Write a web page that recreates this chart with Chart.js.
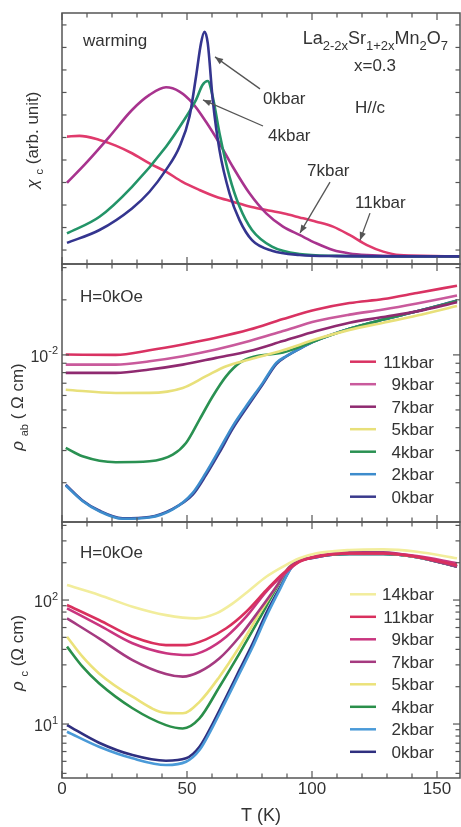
<!DOCTYPE html>
<html><head><meta charset="utf-8">
<script src="https://cdn.jsdelivr.net/npm/chart.js@4/dist/chart.umd.min.js"></script>
<style>
html,body{margin:0;padding:0;background:#fff;}
#wrap{position:relative;width:461px;height:827px;overflow:hidden;background:#fff;}
#wrap canvas{position:absolute;left:0;top:0;}
</style></head><body>
<div id="wrap">
<canvas id="cChi" width="461" height="827"></canvas>
<canvas id="cAb" width="461" height="827"></canvas>
<canvas id="cC" width="461" height="827"></canvas>
</div>
<script>
// ---------- axis ticks / labels ----------
const X_MIN = 0, X_MAX = 159.2;
const xTicks = [0,10,20,30,40,50,60,70,80,90,100,110,120,130,140,150];
const xTickLabels = ['0','50','100','150'];
const xLabelValues = [0,50,100,150];
const chiTicks = [0,1,2,3,4,5,6,7,8,9,10];
const abMajorTicks = [0.01];
const abMinorTicks = [0.002,0.003,0.004,0.005,0.006,0.007,0.008,0.009,0.02,0.03];
const cMajorTicks = [10,100];
const cMinorTicks = [4,5,6,7,8,9,20,30,40,50,60,70,80,90,200,300,400];

// ---------- top panel: chi_c (arb. unit) ----------
const chi0T = [2,15,28,35,41.6,47,51,53.6,55.6,57,58.3,60.3,63,67,71,76,84,95,110,130,159];
const chi0V = [0.32,0.89,1.85,2.59,3.56,4.59,5.93,7.70,9.19,9.70,9.19,6.67,4.44,2.52,1.33,0.44,-0.03,-0.22,-0.27,-0.28,-0.28];
const chi4T = [2,15,28,41.6,48,53.6,56.2,58.3,60.3,63,67,71,76,84,95,110,130,159];
const chi4V = [0.74,1.48,2.81,4.59,5.63,6.67,7.33,7.51,6.81,5.19,3.26,1.93,0.89,0.15,-0.18,-0.26,-0.28,-0.28];
const chi7T = [2,9.5,19,28,35,41.6,47,52.3,57.6,63,68.3,75,81.7,88.4,95,101.7,108.4,115,122,135,159];
const chi7V = [2.99,3.85,5.04,6.22,6.89,7.23,7.04,6.52,5.70,4.74,3.70,2.52,1.63,1.04,0.67,0.30,0.0,-0.15,-0.22,-0.27,-0.28];
const chi11T = [2,7,15,21.5,28,35,41.6,48,55,61.6,68.3,75,81.7,88.4,95,101.7,108.4,115,122,128.5,135,159];
const chi11V = [5.04,5.07,4.89,4.64,4.30,3.85,3.48,3.04,2.67,2.37,2.15,1.93,1.78,1.63,1.45,1.26,1.04,0.67,0.22,-0.07,-0.22,-0.28];

// ---------- middle panel: rho_ab (Ohm cm) ----------
const abT = [1.5,21.5,35,48.3,61.6,75,88.4,101.8,115,128.5,142,158];
const ab11V = [0.01004,0.0100,0.0106,0.0114,0.0124,0.01375,0.0157,0.0177,0.0192,0.0202,0.0218,0.0239];
const ab9V  = [0.00885,0.00885,0.00923,0.00984,0.0107,0.0119,0.0135,0.0153,0.0166,0.0177,0.0191,0.0211];
const ab7V  = [0.00797,0.00797,0.00832,0.00885,0.00963,0.0105,0.0119,0.0135,0.0150,0.0161,0.0173,0.0194];
const ab5T = [1.5,21.5,35,48.3,57.6,65.7,75,88.4,101.8,115,128.5,142,158];
const ab5V = [0.00645,0.00619,0.0062,0.0066,0.00765,0.00867,0.00943,0.0106,0.0122,0.0137,0.0150,0.0164,0.0185];
const ab4T = [1.5,8.2,21.5,35,44.3,49.6,55,60.3,65.7,71,76.3,88.4,101.8,115,128.5,142,158];
const ab4V = [0.0031,0.00279,0.00259,0.00262,0.00285,0.0033,0.00443,0.00594,0.00765,0.00904,0.00975,0.0103,0.0120,0.0139,0.0156,0.0173,0.0197];
const ab2T = [1.5,8.2,14.8,24.2,34.9,44.3,52.3,57.6,63,68.3,73.7,80.3,85.7,89.7,95,101.8,115,128.5,142,158];
const ab2V = [0.00193,0.00159,0.00140,0.00127,0.00129,0.00143,0.00176,0.00227,0.00304,0.00408,0.00525,0.00703,0.00904,0.00984,0.0108,0.0120,0.0139,0.0156,0.0173,0.0197];
const ab0V = [0.00195,0.00160,0.00141,0.00128,0.00130,0.00144,0.00172,0.00220,0.00293,0.00395,0.00510,0.00690,0.00890,0.00980,0.0108,0.0120,0.0139,0.0156,0.0173,0.0198];

// ---------- bottom panel: rho_c (Ohm cm) ----------
const c14T = [2,14.8,28.2,41.6,53.6,61.7,68.3,75,81.7,88.4,95,101.8,115,128.5,142,158];
const c14V = [132,110,88.4,75.6,71.1,78,94,120,154,186,217,238,253,256,245,217];
const c11T = [2,14.8,28.2,41.6,49.6,57.6,65.7,73.7,81.7,88.4,95,101.8,115,128.5,142,158];
const c11V = [91.2,69,50.6,43.3,43.3,48.2,59.2,80.5,120,164,204,223,238,238,223,191];
const c9T = [2,14.8,28.2,41.6,51,57.6,65.7,73.7,81.7,88.4,95,101.8,115,128.5,142,158];
const c9V = [85.7,62.8,44.8,37.2,36,39.5,50.6,73.4,117,159,204,226,238,238,226,198];
const c7T = [2,14.8,28.2,41.6,48.3,55,63,71,79,85.7,91,101.8,115,128.5,142,158];
const c7V = [71.1,49.1,32.8,25.3,24.1,26.4,33.9,50.6,83,128,185,223,243,243,223,186];
const c5T = [2,8.2,14.8,28.2,41.6,48.3,55,63,71,79,85.7,91,101.8,115,128.5,142,158];
const c5V = [50.6,34.9,25.6,16.6,12.3,12.2,15.1,24.1,42,78,128,185,226,238,238,223,189];
const c4T = [2,8.2,14.8,28.2,41.6,48.3,55,63,71,79,85.7,91,101.8,115,128.5,142,158];
const c4V = [42.1,29,21.3,13.4,9.8,9.2,11.1,20,37.2,71,124,185,223,235,235,221,186];
const c2T = [2,14.8,28.2,41.6,49.6,55,60.3,65.7,71,76.3,81.7,87,92.4,101.8,115,128.5,142,158];
const c2V = [8.67,6.56,5.29,4.67,4.96,6.17,9.5,15.6,25.6,42,73.4,120,190,221,235,235,221,186];
const c0V = [9.8,7.07,5.62,5.06,5.29,6.56,10.1,16.6,27.3,44.8,78,124,190,221,235,235,221,186];

// ---------- drawing helpers ----------
const FONT = '"Liberation Sans", Arial, Helvetica, sans-serif';
const INK = '#333';
const AXIS = '#555';
function fontOf(s,size){const sz=(s.sub||s.sup)?Math.round(size*(s.k||0.66)):size;return (s.italic?'italic ':'')+sz+'px '+FONT;}
function richWidth(ctx,segs,size){let w=0;for(const s of segs){ctx.font=fontOf(s,size);w+=ctx.measureText(s.t).width;}return w;}
function drawRich(ctx,segs,x,y,size,align){
  const w=richWidth(ctx,segs,size);
  let cx=align==='right'?x-w:align==='center'?x-w/2:x;
  ctx.textAlign='left';ctx.textBaseline='alphabetic';
  const base=y+size*0.36;
  for(const s of segs){ctx.font=fontOf(s,size);let dy=0;if(s.sub)dy=size*0.28;if(s.sup)dy=-size*0.45;
    ctx.fillText(s.t,cx,base+dy);cx+=ctx.measureText(s.t).width;}
}
function line(ctx,x1,y1,x2,y2){ctx.beginPath();ctx.moveTo(x1,y1);ctx.lineTo(x2,y2);ctx.stroke();}
function arrow(ctx,x1,y1,x2,y2){
  line(ctx,x1,y1,x2,y2);
  const a=Math.atan2(y2-y1,x2-x1),L=8,W=3.2;
  ctx.beginPath();ctx.moveTo(x2,y2);
  ctx.lineTo(x2-L*Math.cos(a)+W*Math.sin(a),y2-L*Math.sin(a)-W*Math.cos(a));
  ctx.lineTo(x2-L*Math.cos(a)-W*Math.sin(a),y2-L*Math.sin(a)+W*Math.cos(a));
  ctx.closePath();ctx.fill();
}

const panelPlugin = {
  id:'panel',
  afterDatasetsDraw(chart,args,o){
    const {ctx,chartArea:a,scales:{x,y}}=chart;
    ctx.save();
    ctx.strokeStyle=AXIS;ctx.fillStyle=INK;ctx.lineWidth=1.2;
    for(const t of xTicks){const px=x.getPixelForValue(t);const L=(t%50===0)?7:4.5;
      line(ctx,px,a.bottom,px,a.bottom-L);line(ctx,px,a.top,px,a.top+L);}
    for(const v of o.major){const py=y.getPixelForValue(v);line(ctx,a.left,py,a.left+7,py);line(ctx,a.right,py,a.right-7,py);}
    for(const v of o.minor){const py=y.getPixelForValue(v);line(ctx,a.left,py,a.left+4.5,py);line(ctx,a.right,py,a.right-4.5,py);}
    ctx.lineWidth=1.5;ctx.strokeRect(a.left,a.top,a.right-a.left,a.bottom-a.top);
    for(const lb of o.yLabels){const py=y.getPixelForValue(lb.v);
      drawRich(ctx,[{t:'10'},{t:lb.e,sup:true}],a.left-4,py+1,16,'right');}
    if(o.xLabels){ctx.font='17px '+FONT;ctx.textAlign='center';ctx.textBaseline='middle';
      xLabelValues.forEach((v,i)=>ctx.fillText(xTickLabels[i],x.getPixelForValue(v),a.bottom+11));
      drawRich(ctx,[{t:'T (K)'}],(a.left+a.right)/2,a.bottom+37,18,'center');}
    ctx.save();ctx.translate(o.titleX,o.titleY);ctx.rotate(-Math.PI/2);
    drawRich(ctx,o.title,0,0,17,'center');ctx.restore();
    for(const tx of o.texts){drawRich(ctx,tx.segs,x.getPixelForValue(tx.T),y.getPixelForValue(tx.v),tx.size||17,tx.align);}
    ctx.fillStyle=AXIS;ctx.lineWidth=1.3;
    for(const ar of o.arrows){arrow(ctx,x.getPixelForValue(ar[0]),y.getPixelForValue(ar[1]),x.getPixelForValue(ar[2]),y.getPixelForValue(ar[3]));}
    if(o.legend){ctx.fillStyle=INK;
      chart.data.datasets.forEach((d,i)=>{const py=a.top+o.legend.top+i*o.legend.step;
        ctx.strokeStyle=d.borderColor;ctx.lineWidth=2.5;line(ctx,a.right-110,py,a.right-84,py);
        drawRich(ctx,[{t:d.label}],a.right-26,py,17,'right');});}
    ctx.restore();
  }
};

const pts=(T,V)=>T.map((t,i)=>({x:t,y:V[i]}));
function ds(label,color,T,V){return {label,data:pts(T,V),borderColor:color,backgroundColor:color,borderWidth:2.6,pointRadius:0,tension:0.4,cubicInterpolationMode:'monotone',fill:false};}
function makeChart(id,datasets,yCfg,pad,panel){
  return new Chart(document.getElementById(id),{
    type:'line',data:{datasets},
    options:{responsive:false,animation:false,events:[],layout:{padding:pad},
      scales:{x:{type:'linear',display:false,min:X_MIN,max:X_MAX},y:Object.assign({display:false},yCfg)},
      plugins:{legend:{display:false},tooltip:{enabled:false},panel}},
    plugins:[panelPlugin]});
}

makeChart('cChi',[
  ds('0kbar','#34358f',chi0T,chi0V),
  ds('4kbar','#239468',chi4T,chi4V),
  ds('7kbar','#a8338e',chi7T,chi7V),
  ds('11kbar','#e03a6c',chi11T,chi11V)
],{type:'linear',min:-0.62,max:10.53},{left:62,right:1,top:13,bottom:563},{
  major:[],minor:chiTicks,yLabels:[],xLabels:false,titleX:32,titleY:140,
  title:[{t:'χ',italic:true},{t:' '},{t:'c',sub:true},{t:' (arb. unit)'}],
  texts:[
    {segs:[{t:'warming'}],T:8.4,v:9.33,align:'left'},
    {segs:[{t:'La'},{t:'2-2x',sub:true,k:0.72},{t:'Sr'},{t:'1+2x',sub:true,k:0.72},{t:'Mn'},{t:'2',sub:true,k:0.72},{t:'O'},{t:'7',sub:true,k:0.72}],T:154.4,v:9.42,align:'right',size:18},
    {segs:[{t:'x=0.3'}],T:125.2,v:8.22,align:'center'},
    {segs:[{t:'H//c'}],T:123.2,v:6.36,align:'center'},
    {segs:[{t:'0kbar'}],T:80.4,v:6.76,align:'left'},
    {segs:[{t:'4kbar'}],T:82.4,v:5.11,align:'left'},
    {segs:[{t:'7kbar'}],T:98,v:3.56,align:'left'},
    {segs:[{t:'11kbar'}],T:117.2,v:2.13,align:'left'}
  ],
  arrows:[[79.2,7.16,61.2,8.58],[80.4,5.51,56.4,6.67],[107.2,3.02,95.2,0.76],[123.2,1.64,119.2,0.44]],
  legend:null
});

makeChart('cAb',[
  ds('11kbar','#d93262',abT,ab11V),
  ds('9kbar','#c95a9c',abT,ab9V),
  ds('7kbar','#8f2a70',abT,ab7V),
  ds('5kbar','#e8e07a',ab5T,ab5V),
  ds('4kbar','#2a9152',ab4T,ab4V),
  ds('2kbar','#3d8ccc',ab2T,ab2V),
  ds('0kbar','#3a3a8c',ab2T,ab0V)
],{type:'logarithmic',min:0.00122,max:0.0314},{left:62,right:1,top:264,bottom:305},{
  major:abMajorTicks,minor:abMinorTicks,yLabels:[{v:0.01,e:'-2'}],xLabels:false,titleX:17,titleY:407,
  title:[{t:'ρ',italic:true},{t:' '},{t:'ab',sub:true},{t:' ( Ω cm)'}],
  texts:[{segs:[{t:'H=0kOe'}],T:7.2,v:0.0210,align:'left'}],
  arrows:[],legend:{top:97.7,step:22.5}
});

makeChart('cC',[
  ds('14kbar','#f2ed9c',c14T,c14V),
  ds('11kbar','#d9305e',c11T,c11V),
  ds('9kbar','#c9357f',c9T,c9V),
  ds('7kbar','#a53a80',c7T,c7V),
  ds('5kbar','#ebe27a',c5T,c5V),
  ds('4kbar','#2a8f4a',c4T,c4V),
  ds('2kbar','#4a9ad8',c2T,c2V),
  ds('0kbar','#2f2f7f',c2T,c0V)
],{type:'logarithmic',min:3.67,max:426},{left:62,right:1,top:522,bottom:49},{
  major:cMajorTicks,minor:cMinorTicks,yLabels:[{v:100,e:'2'},{v:10,e:'1'}],xLabels:true,titleX:17,titleY:653,
  title:[{t:'ρ',italic:true},{t:' '},{t:'c',sub:true},{t:' (Ω cm)'}],
  texts:[{segs:[{t:'H=0kOe'}],T:7.2,v:244,align:'left'}],
  arrows:[],legend:{top:72.3,step:22.5}
});
</script>
</body></html>
